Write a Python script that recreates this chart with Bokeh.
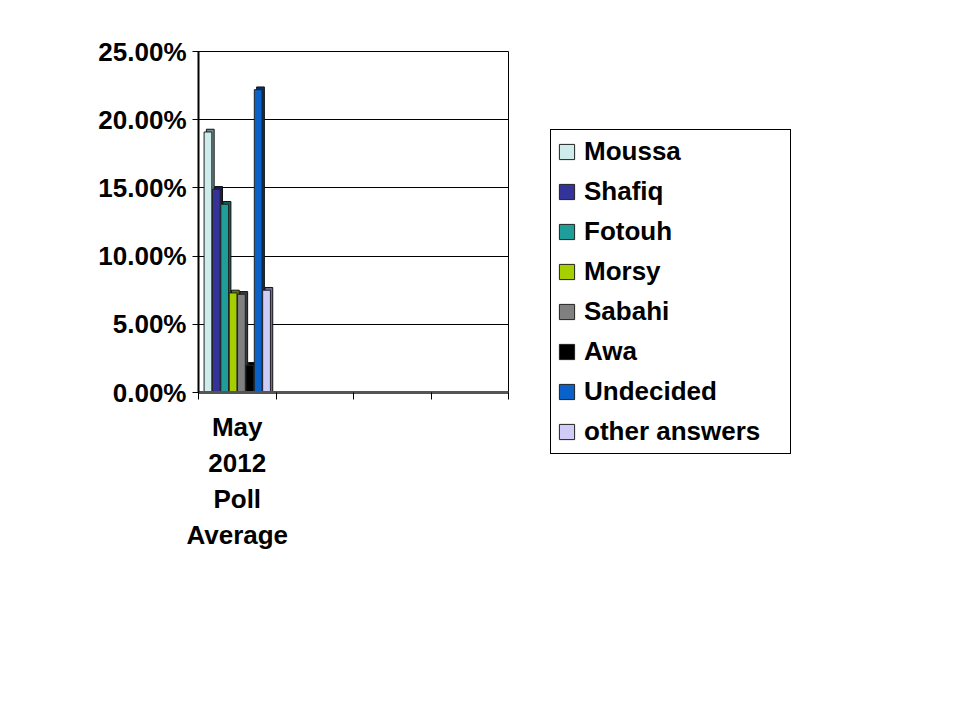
from bokeh.plotting import figure
from bokeh.models import Range1d, FixedTicker, Legend, LegendItem, ColumnDataSource
from bokeh.embed import file_html
from bokeh.resources import INLINE

# ---- data ----
series = ["Moussa", "Shafiq", "Fotouh", "Morsy", "Sabahi", "Awa", "Undecided", "other answers"]
values = [19.1, 14.9, 13.8, 7.3, 7.2, 2.0, 22.2, 7.5]
category_label = "May\n2012\nPoll\nAverage"
y_ticks = [0, 5, 10, 15, 20, 25]
y_tick_labels = ["0.00%", "5.00%", "10.00%", "15.00%", "20.00%", "25.00%"]

colors = ["#cdeceb", "#333399", "#1f9e99", "#a6cf00", "#808080", "#000000", "#0a62c8", "#cfcdf7"]
side_colors = ["#6f8f8f", "#1a1a5a", "#0f5f5c", "#5e7800", "#3a3a3a", "#000000", "#06306a", "#6d6c99"]

FONT = "Liberation Sans"

p = figure(frame_width=310, frame_height=341, output_backend="svg", toolbar_location=None,
           x_range=Range1d(0, 4), y_range=Range1d(0, 25),
           min_border_left=198, min_border_right=300, min_border_top=51, min_border_bottom=200)
p.background_fill_color = "white"
p.border_fill_color = "white"
p.outline_line_color = "black"
p.outline_line_width = 1

# grid
p.xgrid.grid_line_color = None
p.ygrid.ticker = FixedTicker(ticks=y_ticks)
p.ygrid.grid_line_color = "black"
p.ygrid.grid_line_width = 1

# y axis
p.yaxis.ticker = FixedTicker(ticks=y_ticks)
p.yaxis.major_label_overrides = {t: l for t, l in zip(y_ticks, y_tick_labels)}
p.yaxis.major_label_text_font = FONT
p.yaxis.major_label_text_font_style = "bold"
p.yaxis.major_label_text_font_size = "26px"
p.yaxis.major_label_text_color = "black"
p.yaxis.major_tick_out = 6
p.yaxis.major_tick_in = 0
p.yaxis.minor_tick_line_color = None
p.yaxis.axis_line_color = "black"
p.yaxis.axis_line_width = 2
p.yaxis.major_label_standoff = 6

# x axis
p.xaxis.ticker = FixedTicker(ticks=[0.5], minor_ticks=[0, 1, 2, 3, 4])
p.xaxis.major_label_overrides = {0.5: category_label}
p.xaxis.major_label_text_font = FONT
p.xaxis.major_label_text_font_style = "bold"
p.xaxis.major_label_text_font_size = "26px"
p.xaxis.major_label_text_line_height = 1.2
p.xaxis.major_label_text_color = "black"
p.xaxis.major_tick_out = 0
p.xaxis.major_tick_in = 0
p.xaxis.minor_tick_out = 7
p.xaxis.minor_tick_in = 0
p.xaxis.minor_tick_line_color = "black"
p.xaxis.minor_tick_line_width = 1
p.xaxis.axis_line_color = "#555555"
p.xaxis.axis_line_width = 3
p.xaxis.major_label_standoff = 12

# bars
n = len(series)
step = 0.108
bar_w = 0.1
centers = [0.5 + (i - (n - 1) / 2) * step for i in range(n)]

items = []
for i in range(n):
    sub = ColumnDataSource(dict(x=[centers[i]], top=[values[i]],
                                xs=[centers[i] + 0.03], tops=[values[i] + 0.2]))
    p.vbar(x="xs", top="tops", bottom=0, width=bar_w, source=sub,
           fill_color=side_colors[i], line_color="#111111", line_width=1)
    r = p.vbar(x="x", top="top", bottom=0, width=bar_w, source=sub,
               fill_color=colors[i], line_color="#222222", line_width=1)
    items.append(LegendItem(label=series[i], renderers=[r]))

legend = Legend(items=items, location=(42, -62))
legend.label_text_font = FONT
legend.label_text_font_style = "bold"
legend.label_text_font_size = "26px"
legend.label_text_color = "black"
legend.label_height = 29
legend.label_width = 200
legend.glyph_height = 19
legend.glyph_width = 19
legend.label_standoff = 8
legend.spacing = 9
legend.padding = 6
legend.margin = 0
legend.border_line_color = "black"
legend.border_line_alpha = 1.0
legend.border_line_width = 1.5
legend.background_fill_color = "white"
legend.background_fill_alpha = 1
p.add_layout(legend, "right")

open("out.html", "w").write(file_html(p, INLINE))
